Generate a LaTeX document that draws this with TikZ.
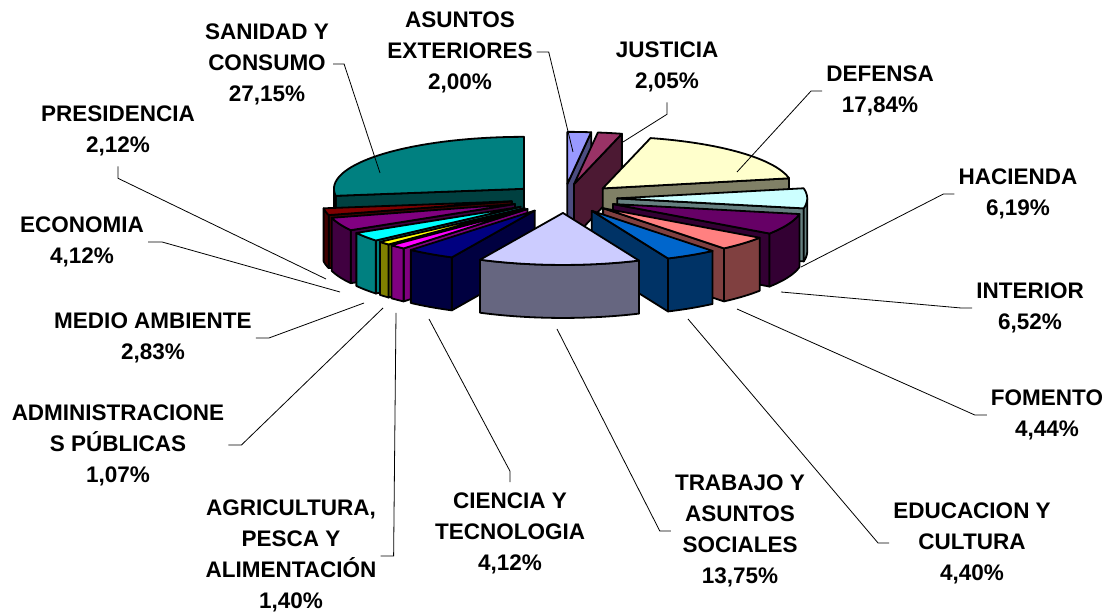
\documentclass[tikz,border=0pt]{standalone}
\usepackage{fontspec}
\setmainfont{Liberation Sans}
\usepackage{tikz}
\usepackage{xcolor}
\definecolor{asuC}{HTML}{9999FF}
\definecolor{jusC}{HTML}{993366}
\definecolor{defC}{HTML}{FFFFCC}
\definecolor{hacC}{HTML}{CCFFFF}
\definecolor{intC}{HTML}{660066}
\definecolor{fomC}{HTML}{FF8080}
\definecolor{eduC}{HTML}{0066CC}
\definecolor{traC}{HTML}{CCCCFF}
\definecolor{cieC}{HTML}{000080}
\definecolor{agrC}{HTML}{FF00FF}
\definecolor{admC}{HTML}{FFFF00}
\definecolor{medC}{HTML}{00FFFF}
\definecolor{ecoC}{HTML}{800080}
\definecolor{preC}{HTML}{800000}
\definecolor{sanC}{HTML}{008080}
\tikzstyle{slice} = [draw=black, line width=1.8pt, line join=round]
\tikzstyle{leader} = [line width=0.8pt]

\begin{document}
\begin{tikzpicture}[x=1pt,y=1pt]
\useasboundingbox (0,0) rectangle (1115,612);
			\tikzset{every node/.style={align=center, font=\fontsize{22.5}{31}\selectfont\bfseries, inner xsep=4pt, inner ysep=10pt}}

% slices, back to front
\foreach \a/\b/\col in {0/7.20/asuC, 7.20/14.58/jusC, 14.58/78.80/defC, 262.26/360/sanC, 78.80/101.09/hacC, 254.63/262.26/preC, 239.80/254.63/ecoC, 101.09/124.56/intC, 229.61/239.80/medC, 225.76/229.61/admC, 124.56/140.54/fomC, 220.72/225.76/agrC, 205.88/220.72/cieC, 140.54/156.38/eduC, 156.38/205.88/traC}
{
	\pgfmathsetmacro\m{(\a+\b)/2}
	\pgfmathsetmacro\ox{564+53.2*sin(\m)}
	\pgfmathsetmacro\oy{413.6+14.56*cos(\m)}
	\pgfmathsetmacro\lo{max(\a,90)}
	\pgfmathsetmacro\hi{min(\b,270)}
	\pgfmathtruncatemacro\vs{sin(\a)<-0.001}
	\pgfmathtruncatemacro\ve{sin(\b)>0.001}
	\pgfmathtruncatemacro\vo{\hi>\lo}
	\ifnum\vs=1
		\filldraw[slice, fill=\col!50!black] (\ox,\oy) -- ({\ox+190*sin(\a)},{\oy+52*cos(\a)}) -- ++(0,-53) -- ({\ox},{\oy-53}) -- cycle;
	\fi
	\ifnum\ve=1
		\filldraw[slice, fill=\col!50!black] (\ox,\oy) -- ({\ox+190*sin(\b)},{\oy+52*cos(\b)}) -- ++(0,-53) -- ({\ox},{\oy-53}) -- cycle;
	\fi
	\ifnum\vo=1
		\filldraw[slice, fill=\col!50!black] plot[domain=\lo:\hi, samples=30] ({\ox+190*sin(\x)},{\oy+52*cos(\x)}) -- plot[domain=\hi:\lo, samples=30] ({\ox+190*sin(\x)},{\oy-53+52*cos(\x)}) -- cycle;
	\fi
	\filldraw[slice, fill=\col] (\ox,\oy) -- plot[domain=\a:\b, samples=40] ({\ox+190*sin(\x)},{\oy+52*cos(\x)}) -- cycle;
}

\node (sanidad) at (267,548) {SANIDAD Y\\CONSUMO\\27,15\%};
\node (asuntos) at (460,560) {ASUNTOS\\EXTERIORES\\2,00\%};
\node (justicia) at (667,545) {JUSTICIA\\2,05\%};
\node (defensa) at (880,521) {DEFENSA\\17,84\%};
\node (hacienda) at (1018,418) {HACIENDA\\6,19\%};
\node (interior) at (1030,304) {INTERIOR\\6,52\%};
\node (fomento) at (1047,197) {FOMENTO\\4,44\%};
\node (educacion) at (972,69) {EDUCACION Y\\CULTURA\\4,40\%};
\node (trabajo) at (740,81) {TRABAJO Y\\ASUNTOS\\SOCIALES\\13,75\%};
\node (ciencia) at (510,79) {CIENCIA Y\\TECNOLOGIA\\4,12\%};
\node (agricultura) at (291,56) {AGRICULTURA,\\PESCA Y\\ALIMENTACIÓN\\1,40\%};
\node (admin) at (118,167) {ADMINISTRACIONE\\S PÚBLICAS\\1,07\%};
\node (medio) at (153,274) {MEDIO AMBIENTE\\2,83\%};
\node (economia) at (82,370) {ECONOMIA\\4,12\%};
\node (presidencia) at (118,481) {PRESIDENCIA\\2,12\%};

\coordinate (pSan) at (380,439);
\coordinate (pAsu) at (573,460);
\coordinate (pJus) at (623,470);
\coordinate (pDef) at (737,440);
\coordinate (pHac) at (801,345);
\coordinate (pInt) at (781,320);
\coordinate (pFom) at (737,303);
\coordinate (pEdu) at (688,293);
\coordinate (pTra) at (557,283);
\coordinate (pCie) at (429,293);
\coordinate (pAgr) at (396,299);
\coordinate (pAdm) at (383,304);
\coordinate (pMed) at (364,309);
\coordinate (pEco) at (340,320);
\coordinate (pPre) at (326,333);

\foreach \from/\dx/\dy/\to in {sanidad.east/11/0/pSan, asuntos.east/12/0/pAsu, justicia.south/0/-12/pJus, defensa.west/-11/0/pDef, hacienda.west/-11/0/pHac, interior.west/-11/0/pInt, fomento.west/-12/0/pFom, educacion.west/-11/0/pEdu, trabajo.west/-11/0/pTra, ciencia.north/0/11/pCie, agricultura.east/13/0/pAgr, admin.east/13/0/pAdm, medio.east/13/0/pMed, economia.east/14/0/pEco, presidencia.south/0/-12/pPre}
{
	\draw[leader] (\from) -- ++(\dx,\dy) -- (\to);
}

		\end{tikzpicture}
\end{document}
